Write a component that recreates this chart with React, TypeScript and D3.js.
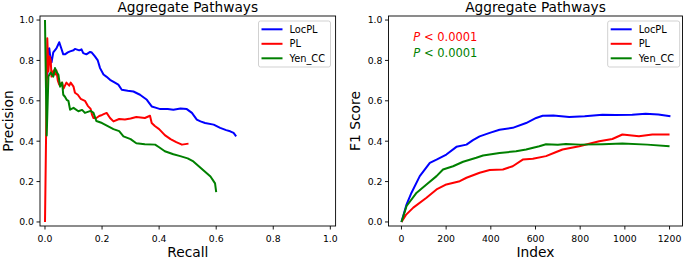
import React from "react";
import * as d3 from "d3";

type Pt = [number, number];

const seriesNames = ["LocPL", "PL", "Yen_CC"];
const seriesColors = ["#0000ff", "#ff0000", "#008000"];

// Left panel: recall / precision
const prLocPL: Pt[] = [
  [0.008, 0.71], [0.01, 0.85], [0.015, 0.86], [0.02, 0.8], [0.023, 0.79], [0.029, 0.84],
  [0.04, 0.86], [0.05, 0.89], [0.057, 0.86], [0.064, 0.83], [0.07, 0.83], [0.08, 0.84],
  [0.088, 0.845], [0.1, 0.85], [0.105, 0.857], [0.12, 0.85], [0.128, 0.855], [0.134, 0.836],
  [0.145, 0.83], [0.158, 0.842], [0.164, 0.839], [0.175, 0.82], [0.185, 0.8], [0.193, 0.762],
  [0.205, 0.73], [0.215, 0.72], [0.228, 0.704], [0.245, 0.69], [0.257, 0.68], [0.269, 0.655],
  [0.29, 0.65], [0.31, 0.646], [0.333, 0.63], [0.357, 0.605], [0.374, 0.572], [0.39, 0.565],
  [0.404, 0.559], [0.43, 0.56], [0.45, 0.556], [0.475, 0.562], [0.497, 0.559], [0.515, 0.54],
  [0.532, 0.507], [0.545, 0.498], [0.561, 0.49], [0.591, 0.482], [0.614, 0.466], [0.635, 0.455],
  [0.649, 0.449], [0.661, 0.441], [0.67, 0.424],
];
const prPL: Pt[] = [
  [0.0, 0.0], [0.004, 0.45], [0.008, 0.91], [0.012, 0.745], [0.016, 0.82], [0.02, 0.8],
  [0.023, 0.72], [0.03, 0.75], [0.035, 0.73], [0.04, 0.75], [0.045, 0.7], [0.05, 0.68],
  [0.06, 0.69], [0.065, 0.66], [0.075, 0.69], [0.085, 0.675], [0.09, 0.69], [0.1, 0.67],
  [0.105, 0.64], [0.115, 0.63], [0.125, 0.61], [0.14, 0.6], [0.15, 0.575], [0.16, 0.56],
  [0.165, 0.53], [0.17, 0.515], [0.18, 0.515], [0.19, 0.525], [0.2, 0.53], [0.216, 0.54],
  [0.228, 0.515], [0.24, 0.498], [0.26, 0.51], [0.28, 0.508], [0.3, 0.512], [0.32, 0.52],
  [0.35, 0.515], [0.368, 0.526], [0.374, 0.49], [0.385, 0.475], [0.4, 0.46], [0.42, 0.43],
  [0.44, 0.41], [0.46, 0.395], [0.48, 0.383], [0.503, 0.388],
];
const prYen: Pt[] = [
  [0.0, 1.0], [0.003, 0.7], [0.006, 0.428], [0.012, 0.72], [0.02, 0.74], [0.029, 0.72],
  [0.035, 0.762], [0.042, 0.74], [0.047, 0.729], [0.053, 0.67], [0.06, 0.69], [0.064, 0.63],
  [0.07, 0.62], [0.076, 0.605], [0.082, 0.6], [0.088, 0.556], [0.1, 0.565], [0.117, 0.548],
  [0.13, 0.555], [0.14, 0.54], [0.16, 0.55], [0.17, 0.54], [0.18, 0.5], [0.2, 0.49],
  [0.22, 0.475], [0.24, 0.46], [0.26, 0.45], [0.275, 0.424], [0.3, 0.41], [0.32, 0.39],
  [0.35, 0.385], [0.386, 0.383], [0.4, 0.37], [0.42, 0.35], [0.45, 0.335], [0.474, 0.326],
  [0.5, 0.315], [0.52, 0.3], [0.54, 0.275], [0.56, 0.25], [0.58, 0.225], [0.596, 0.191],
  [0.6, 0.148],
];

// Right panel: index / F1 score
const f1LocPL: Pt[] = [
  [0, 0.0], [23, 0.087], [45, 0.145], [82, 0.227], [127, 0.293], [157, 0.309], [201, 0.334],
  [246, 0.372], [291, 0.383], [320, 0.405], [350, 0.424], [395, 0.441], [439, 0.457],
  [498, 0.466], [558, 0.49], [603, 0.515], [632, 0.526], [680, 0.527], [751, 0.52],
  [820, 0.523], [900, 0.531], [960, 0.53], [1033, 0.531], [1093, 0.536], [1150, 0.532], [1204, 0.523],
];
const f1PL: Pt[] = [
  [0, 0.0], [20, 0.035], [53, 0.071], [112, 0.12], [157, 0.161], [201, 0.186], [261, 0.202],
  [291, 0.219], [350, 0.244], [395, 0.257], [454, 0.26], [498, 0.276], [543, 0.309],
  [588, 0.313], [647, 0.326], [690, 0.345], [721, 0.359], [796, 0.375], [885, 0.4],
  [944, 0.411], [989, 0.433], [1063, 0.424], [1123, 0.433], [1200, 0.433],
];
const f1Yen: Pt[] = [
  [0, 0.0], [23, 0.079], [68, 0.145], [112, 0.186], [157, 0.227], [186, 0.26], [231, 0.276],
  [276, 0.298], [335, 0.318], [365, 0.329], [439, 0.342], [513, 0.35], [558, 0.359],
  [617, 0.375], [647, 0.385], [700, 0.382], [736, 0.386], [800, 0.383], [900, 0.385],
  [989, 0.388], [1100, 0.383], [1200, 0.375],
];

const xTicksLeft = [0, 0.2, 0.4, 0.6, 0.8, 1.0];
const xTicksRight = [0, 200, 400, 600, 800, 1000, 1200];
const yTicks = [0, 0.2, 0.4, 0.6, 0.8, 1.0];
const pTexts = ["0.0001", "0.0001"];
const pColors = ["#ff0000", "#008000"];

const FONT = "DejaVu Sans, sans-serif";

function Panel(props: {
  x0: number; x1: number; y0: number; y1: number;
  xDomain: [number, number]; xTicks: number[]; xFmt: (v: number) => string;
  data: Pt[][]; xLabel: string; yLabel: string; yLabelX: number;
  legendX: number; showP?: boolean;
}) {
  const { x0, x1, y0, y1 } = props;
  const x = d3.scaleLinear().domain(props.xDomain).range([x0, x1]);
  const y = d3.scaleLinear().domain([-0.02, 1.02]).range([y1, y0]);
  const line = d3.line<Pt>().x((d) => x(d[0])).y((d) => y(d[1]));
  const yFmt = d3.format(".1f");
  const cx = (x0 + x1) / 2;
  const lx = props.legendX;
  return (
    <g>
      <text x={cx} y={11.5} textAnchor="middle" fontSize={13.7} fontFamily={FONT}>Aggregate Pathways</text>
      {props.data.map((d, i) => (
        <path key={i} d={line(d) || ""} fill="none" stroke={seriesColors[i]} strokeWidth={2} strokeLinejoin="round" />
      ))}
      <rect x={x0} y={y0} width={x1 - x0} height={y1 - y0} fill="none" stroke="#000" strokeWidth={0.9} />
      {props.xTicks.map((t) => (
        <g key={"x" + t}>
          <line x1={x(t)} x2={x(t)} y1={y1} y2={y1 + 3.5} stroke="#000" strokeWidth={0.9} />
          <text x={x(t)} y={241.7} textAnchor="middle" fontSize={9.3} fontFamily={FONT}>{props.xFmt(t)}</text>
        </g>
      ))}
      {yTicks.map((t) => (
        <g key={"y" + t}>
          <line x1={x0 - 3.5} x2={x0} y1={y(t)} y2={y(t)} stroke="#000" strokeWidth={0.9} />
          <text x={x0 - 6} y={y(t) + 3.4} textAnchor="end" fontSize={9.3} fontFamily={FONT}>{yFmt(t)}</text>
        </g>
      ))}
      <text x={cx} y={256.5} textAnchor="middle" fontSize={13.8} fontFamily={FONT}>{props.xLabel}</text>
      <text transform={`translate(${props.yLabelX},${(y0 + y1) / 2}) rotate(-90)`} textAnchor="middle" fontSize={13.8} fontFamily={FONT}>{props.yLabel}</text>
      <rect x={lx} y={21} width={72} height={46} rx={2} fill="#fff" fillOpacity={0.8} stroke="#cccccc" strokeWidth={0.9} />
      {seriesNames.map((n, i) => {
        const ry = 29.3 + i * 14.5;
        return (
          <g key={n}>
            <line x1={lx + 3} x2={lx + 24} y1={ry} y2={ry} stroke={seriesColors[i]} strokeWidth={2} />
            <text x={lx + 31} y={ry + 3.5} fontSize={9.8} fontFamily={FONT}>{n}</text>
          </g>
        );
      })}
      {props.showP && pTexts.map((p, i) => (
        <text key={i} x={413.3} y={40.7 + i * 16} fontSize={11.5} fontFamily={FONT} fill={pColors[i]}>
          <tspan fontStyle="italic">P</tspan> {"< " + p}
        </text>
      ))}
    </g>
  );
}

export default function App() {
  return (
    <svg width={685} height={258} style={{ display: "block", position: "absolute", left: 0, top: 0 }}>
      <rect width={685} height={258} fill="#fff" />
      <Panel x0={40} x1={335.6} y0={16} y1={226} xDomain={[-0.0175, 1.0185]} xTicks={xTicksLeft}
        xFmt={d3.format(".1f")} data={[prLocPL, prPL, prYen]} xLabel="Recall" yLabel="Precision"
        yLabelX={12.5} legendX={258.5} />
      <Panel x0={388.5} x1={682.5} y0={16} y1={226} xDomain={[-58, 1258]} xTicks={xTicksRight}
        xFmt={d3.format("d")} data={[f1LocPL, f1PL, f1Yen]} xLabel="Index" yLabel="F1 Score"
        yLabelX={360} legendX={607.7} showP />
    </svg>
  );
}
